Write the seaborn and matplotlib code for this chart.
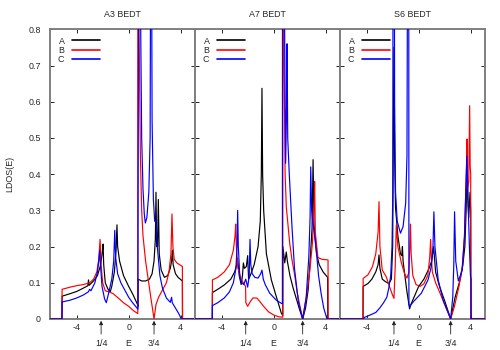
import matplotlib
matplotlib.use("Agg")
import matplotlib.pyplot as plt
import seaborn as sns
import pandas as pd

# ---------------- data ----------------
PANEL_TITLES = ["A3 BEDT", "A7 BEDT", "S6 BEDT"]
SITES = ["A", "B", "C"]
SITE_COLORS = ["black", "red", "blue"]
X_TICKS = [-4, 0, 4]
Y_TICKS = [0, 0.1, 0.2, 0.3, 0.4, 0.5, 0.6, 0.7, 0.8]
ARROW_LABELS = ["1/4", "3/4"]
A3_ARROWS = [-2.12, 1.95]
A7_ARROWS = [-2.15, 2.23]
S6_ARROWS = [-1.9, 2.46]

# A3 BEDT
A3_A_E = [-6.05, -5.13, -5.12, -4.5, -4.0, -3.5, -3.14, -3.09, -3.04, -2.7, -2.4, -2.15, -2.03, -1.97, -1.92,
          -1.8, -1.6, -1.42, -1.3, -1.1, -0.97, -0.9, -0.85, -0.7, -0.4, 0.0, 0.35, 0.68, 0.72, 0.73, 1.0, 1.3,
          1.6, 1.8, 1.95, 2.05, 2.1, 2.15, 2.22, 2.28, 2.35, 2.5, 2.75, 3.0, 3.2, 3.3, 3.36, 3.42, 3.6, 3.8,
          4.13, 4.14, 5.1]
A3_A_Y = [0, 0, 0.063, 0.07, 0.076, 0.085, 0.092, 0.108, 0.093, 0.105, 0.12, 0.15, 0.185, 0.207, 0.15,
          0.1, 0.083, 0.075, 0.09, 0.13, 0.19, 0.26, 0.2, 0.16, 0.12, 0.09, 0.066, 0.04, 0.035, 0.11, 0.105, 0.105,
          0.11, 0.125, 0.16, 0.22, 0.35, 0.2, 0.2, 0.33, 0.18, 0.135, 0.115, 0.12, 0.14, 0.16, 0.19, 0.15, 0.125, 0.115,
          0.105, 0, 0]
A3_B_E = [-6.05, -5.13, -5.12, -4.5, -4.0, -3.5, -3.0, -2.7, -2.45, -2.3, -2.2, -2.12, -2.0, -1.8, -1.5, -1.2,
          -0.8, -0.4, 0.0, 0.4, 0.7, 0.71, 0.8, 0.9, 1.0, 1.1, 1.3, 1.5, 1.7, 1.95, 2.1, 2.3, 2.6, 2.9, 3.1, 3.25,
          3.33, 3.4, 3.5, 3.7, 4.0, 4.13, 4.14, 5.1]
A3_B_Y = [0, 0, 0.082, 0.088, 0.092, 0.095, 0.1, 0.11, 0.13, 0.165, 0.22, 0.15, 0.1, 0.078, 0.075, 0.07,
          0.058, 0.045, 0.035, 0.022, 0.015, 1.5, 0.8, 0.45, 0.3, 0.23, 0.16, 0.11, 0.06, 0.0, 0.04, 0.06, 0.08, 0.1, 0.13, 0.18,
          0.29, 0.2, 0.165, 0.155, 0.148, 0.145, 0, 0]
A3_C_E = [-6.05, -5.13, -5.12, -4.5, -4.0, -3.5, -3.1, -3.0, -2.9, -2.6, -2.4, -2.3, -2.23, -2.17, -2.05, -1.85,
          -1.72, -1.55, -1.3, -1.15, -1.07, -1.0, -0.85, -0.6, -0.3, 0.0, 0.3, 0.6, 0.71, 0.72, 0.8, 0.9, 1.0, 1.1,
          1.2, 1.28, 1.4, 1.55, 1.65, 1.72, 1.8, 1.9, 2.0, 2.1, 2.2, 2.4, 2.6, 2.9, 3.2, 3.3, 3.35, 3.6, 3.85, 4.05, 5.1]
A3_C_Y = [0, 0, 0.047, 0.052, 0.058, 0.066, 0.075, 0.082, 0.078, 0.1, 0.13, 0.16, 0.19, 0.15, 0.09, 0.055,
          0.045, 0.07, 0.11, 0.16, 0.245, 0.17, 0.125, 0.1, 0.08, 0.06, 0.045, 0.032, 0.027, 0.3, 1.5, 0.9, 0.5, 0.36,
          0.29, 0.265, 0.28, 0.35, 0.5, 1.5, 0.55, 0.33, 0.27, 0.27, 0.2, 0.12, 0.085, 0.058, 0.046, 0.06, 0.045, 0.03, 0.015, 0.0, 0]

# A7 BEDT
A7_A_E = [-6.05, -4.72, -4.71, -4.3, -3.8, -3.3, -3.0, -2.85, -2.78, -2.65, -2.5, -2.4, -2.33, -2.25, -2.1, -2.0,
          -1.93, -1.8, -1.5, -1.2, -1.03, -0.95, -0.9, -0.85, -0.77, -0.56, -0.18, 0.2, 0.59, 0.7, 0.71, 0.85, 0.97,
          1.05, 1.25, 1.5, 1.75, 2.0, 2.23, 2.45, 2.65, 2.8, 2.95, 3.03, 3.1, 3.3, 3.5, 3.8, 4.15, 4.16, 5.1]
A7_A_Y = [0, 0, 0.073, 0.082, 0.094, 0.11, 0.13, 0.15, 0.168, 0.12, 0.095, 0.12, 0.155, 0.14, 0.145, 0.175,
          0.11, 0.12, 0.15, 0.2, 0.27, 0.4, 0.637, 0.4, 0.3, 0.18, 0.108, 0.062, 0.016, 0.01, 0.2, 0.155, 0.185,
          0.16, 0.12, 0.085, 0.055, 0.025, 0.0, 0.03, 0.08, 0.16, 0.25, 0.44, 0.26, 0.18, 0.15, 0.13, 0.115, 0, 0]
A7_B_E = [-6.05, -4.72, -4.71, -4.3, -3.8, -3.4, -3.1, -2.97, -2.92, -2.87, -2.75, -2.5, -2.25, -2.16, -2.14, -2.0,
          -1.85, -1.6, -1.3, -1.1, -0.8, -0.4, 0.0, 0.4, 0.7, 0.72, 0.8, 0.88, 0.97, 1.1, 1.23, 1.4, 1.62, 1.8, 2.0,
          2.23, 2.5, 2.77, 2.98, 3.1, 3.15, 3.2, 3.4, 3.7, 4.18, 4.19, 5.1]
A7_B_Y = [0, 0, 0.108, 0.115, 0.13, 0.15, 0.19, 0.23, 0.262, 0.2, 0.14, 0.11, 0.095, 0.09, 0.045, 0.035,
          0.045, 0.058, 0.058, 0.05, 0.036, 0.02, 0.011, 0.006, 0.005, 1.5, 0.7, 0.4, 0.31, 0.26, 0.21, 0.165, 0.12, 0.075, 0.039,
          0.0, 0.058, 0.13, 0.21, 0.31, 0.38, 0.24, 0.17, 0.165, 0.163, 0, 0]
A7_C_E = [-6.05, -4.72, -4.71, -4.3, -3.8, -3.4, -3.1, -2.9, -2.82, -2.77, -2.72, -2.6, -2.45, -2.3, -2.15, -2.0,
          -1.88, -1.82, -1.76, -1.65, -1.45, -1.2, -1.0, -0.9, -0.8, -0.65, -0.3, 0.2, 0.6, 0.67, 0.68, 0.8, 0.92,
          1.0, 1.03, 1.08, 1.2, 1.4, 1.6, 1.9, 2.23, 2.5, 2.7, 2.8, 2.85, 2.92, 3.0, 3.15, 3.3, 3.45, 3.65, 3.85,
          4.05, 4.1, 5.1]
A7_C_Y = [0, 0, 0.037, 0.045, 0.058, 0.075, 0.1, 0.14, 0.2, 0.3, 0.2, 0.115, 0.1, 0.095, 0.11, 0.088,
          0.12, 0.22, 0.15, 0.125, 0.115, 0.113, 0.125, 0.135, 0.11, 0.095, 0.071, 0.052, 0.043, 0.042, 1.5, 1.0, 0.43,
          0.6, 0.76, 0.5, 0.4, 0.26, 0.14, 0.047, 0.0, 0.06, 0.17, 0.28, 0.42, 0.3, 0.27, 0.23, 0.18, 0.12, 0.07, 0.03,
          0.006, 0, 0]

# S6 BEDT
S6_A_E = [-6.05, -4.28, -4.27, -3.9, -3.6, -3.3, -3.12, -3.05, -2.98, -2.8, -2.55, -2.3, -2.1, -2.0, -1.95, -1.9,
          -1.85, -1.78, -1.6, -1.4, -1.3, -1.25, -1.2, -1.08, -0.9, -0.7, -0.6, -0.3, 0.0, 0.4, 0.8, 1.0, 1.15, 1.3,
          1.6, 2.0, 2.46, 2.8, 3.2, 3.4, 3.55, 3.65, 3.72, 3.78, 3.85, 3.95, 4.0, 4.01, 5.1]
S6_A_Y = [0, 0, 0.09, 0.098, 0.11, 0.13, 0.15, 0.177, 0.14, 0.11, 0.103, 0.098, 0.11, 0.2, 0.5, 0.75,
          0.45, 0.307, 0.23, 0.18, 0.175, 0.2, 0.16, 0.125, 0.075, 0.028, 0.04, 0.065, 0.09, 0.11, 0.14, 0.16, 0.2, 0.13,
          0.09, 0.05, 0.0, 0.06, 0.11, 0.15, 0.2, 0.3, 0.45, 0.33, 0.28, 0.35, 0.3, 0, 0]
S6_B_E = [-6.05, -4.28, -4.27, -3.9, -3.55, -3.3, -3.12, -3.05, -2.98, -2.8, -2.5, -2.2, -2.0, -1.9, -1.8, -1.72,
          -1.6, -1.33, -1.08, -0.9, -0.75, -0.68, -0.63, -0.58, -0.45, -0.2, 0.1, 0.4, 0.7, 0.85, 0.92, 0.97, 1.05,
          1.3, 1.6, 2.0, 2.46, 2.75, 3.1, 3.35, 3.52, 3.62, 3.68, 3.72, 3.76, 3.85, 3.92, 3.96, 4.0, 4.01, 5.1]
S6_B_Y = [0, 0, 0.112, 0.122, 0.145, 0.18, 0.24, 0.324, 0.2, 0.135, 0.117, 0.085, 0.065, 0.057, 0.15, 0.26,
          0.2, 0.155, 0.125, 0.113, 0.13, 0.2, 0.262, 0.18, 0.12, 0.095, 0.09, 0.097, 0.12, 0.17, 0.22, 0.17, 0.13,
          0.1, 0.075, 0.04, 0.0, 0.035, 0.09, 0.145, 0.227, 0.35, 0.42, 0.497, 0.36, 0.38, 0.589, 0.42, 0.4, 0, 0]
S6_C_E = [-6.05, -4.22, -4.2, -3.8, -3.3, -3.0, -2.7, -2.45, -2.3, -2.15, -2.05, -1.99, -1.96, -1.9, -1.85, -1.78,
          -1.65, -1.4, -1.2, -1.0, -0.9, -0.82, -0.77, -0.75, -0.69, -0.4, 0.2, 0.72, 0.97, 1.1, 1.17, 1.25, 1.5,
          1.88, 2.46, 2.62, 2.7, 2.76, 2.85, 3.05, 3.35, 3.52, 3.62, 3.7, 3.78, 3.9, 3.98, 4.03, 4.04, 5.1]
S6_C_Y = [0, 0, 0.004, 0.01, 0.018, 0.03, 0.045, 0.06, 0.085, 0.12, 0.2, 0.35, 1.5, 1.5, 0.6, 0.35,
          0.27, 0.237, 0.255, 0.32, 0.45, 1.5, 1.5, 0.04, 0.035, 0.048, 0.071, 0.108, 0.145, 0.2, 0.296, 0.2, 0.108,
          0.052, 0.0, 0.06, 0.15, 0.296, 0.16, 0.105, 0.135, 0.227, 0.35, 0.45, 0.35, 0.2, 0.12, 0.11, 0, 0]

PANELS = [
    (PANEL_TITLES[0], [(A3_A_E, A3_A_Y), (A3_B_E, A3_B_Y), (A3_C_E, A3_C_Y)], A3_ARROWS),
    (PANEL_TITLES[1], [(A7_A_E, A7_A_Y), (A7_B_E, A7_B_Y), (A7_C_E, A7_C_Y)], A7_ARROWS),
    (PANEL_TITLES[2], [(S6_A_E, S6_A_Y), (S6_B_E, S6_B_Y), (S6_C_E, S6_C_Y)], S6_ARROWS),
]

# ---------------- style ----------------
sns.set_style("ticks")
plt.rcParams["font.family"] = ["Liberation Sans", "DejaVu Sans"]
plt.rcParams["axes.unicode_minus"] = False

FS = 6.4
XLIM = (-6.05, 5.1)
YLIM = (0, 0.8)
FRAME = "#808080"

fig = plt.figure(figsize=(5, 3.5), dpi=100)
L, B = 50 / 500, 1 - 319 / 350
W, H = 145 / 500, (319 - 29.3) / 350
LABEL_Y = -0.086

for i, (title, curves, arrows) in enumerate(PANELS):
    ax = fig.add_axes([L + i * W, B, W, H])
    for name, color, (E, Y) in zip(SITES, SITE_COLORS, curves):
        df = pd.DataFrame({"E": E, "LDOS": Y})
        sns.lineplot(data=df, x="E", y="LDOS", color=color, label=name, sort=False,
                     estimator=None, lw=0.85, ax=ax, zorder=3)
    ax.set_xlim(XLIM)
    ax.set_ylim(YLIM)
    ax.set_xticks(X_TICKS)
    ax.set_yticks(Y_TICKS)
    ax.set_yticklabels([f"{v:g}" for v in Y_TICKS])
    ax.tick_params(axis="both", direction="in", top=True, right=True, length=3,
                   width=0.6, color="black", labelsize=FS)
    ax.tick_params(axis="x", pad=3)
    ax.tick_params(axis="y", pad=6.5, labelleft=(i == 0))
    for sp in ax.spines.values():
        sp.set_color(FRAME)
        sp.set_linewidth(1.4)
    ax.set_title(title, fontsize=FS, pad=9)

    ax.set_xlabel("E", fontsize=FS)
    ax.xaxis.set_label_coords((0 - XLIM[0]) / (XLIM[1] - XLIM[0]), LABEL_Y)
    ax.xaxis.label.set_va("center")
    if i == 0:
        ax.set_ylabel("LDOS(E)", fontsize=FS)
        ax.yaxis.set_label_coords(-40 / 145, 0.5)
        ax.yaxis.label.set_va("center")
    else:
        ax.set_ylabel("")

    for lab, xe in zip(ARROW_LABELS, arrows):
        ax.annotate(lab, xy=(xe, -0.006), xycoords=("data", "axes fraction"),
                    xytext=(xe, LABEL_Y), textcoords=("data", "axes fraction"),
                    ha="center", va="center", fontsize=FS, annotation_clip=False,
                    arrowprops=dict(arrowstyle="-|>", color="#222222", lw=0.6,
                                    mutation_scale=5.5, shrinkA=1.5, shrinkB=0))

    h, l = ax.get_legend_handles_labels()
    leg = ax.legend(h, l, loc="upper left", bbox_to_anchor=(0.055, 0.975), frameon=False,
                    markerfirst=False, fontsize=FS, handlelength=3.2, handletextpad=0.8,
                    labelspacing=0.02, borderpad=0, borderaxespad=0)
    for ln in leg.get_lines():
        ln.set_linewidth(1.2)

fig.savefig("out.png", dpi=100)
